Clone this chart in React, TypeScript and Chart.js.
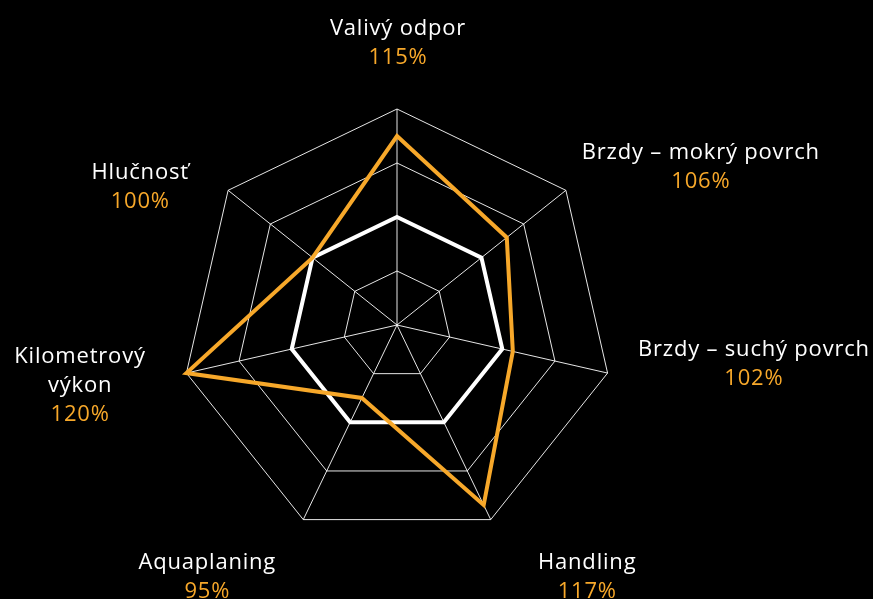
import React, { useEffect, useRef } from 'react';
import { Chart, registerables } from 'chart.js';

Chart.register(...registerables);

// ---- data ----
const categories: (string | string[])[] = [
  'Valivý odpor',
  'Brzdy – mokrý povrch',
  'Brzdy – suchý povrch',
  'Handling',
  'Aquaplaning',
  ['Kilometrový', 'výkon'],
  'Hlučnosť',
];
const tireValues = [115, 106, 102, 117, 95, 120, 100];
const referenceValues = [100, 100, 100, 100, 100, 100, 100];
const scaleMin = 80;
const scaleMax = 120;
const scaleStep = 10;

// ---- style / layout ----
const ORANGE = '#F7A82A';
const WHITE = '#FFFFFF';
const GRID = 'rgba(255,255,255,0.9)';
const FONT = '22px "Open Sans", "Noto Sans", sans-serif';
const LETTER_SPACING = '0.8px';
const LINE_H = 29;
const LABEL_GAP = 28;
// small per-label layout nudges [dx, dy] of the label blocks
const LABEL_NUDGE: [number, number][] = [
  [1, -10],
  [20, 12],
  [6, -22],
  [63, 6],
  [-54, 6],
  [-15, -4],
  [-28, 32],
];

const labelPlugin = {
  id: 'axisLabels',
  afterDraw(chart: any) {
    const scale = chart.scales.r;
    const ctx = chart.ctx as CanvasRenderingContext2D;
    ctx.save();
    ctx.font = FONT;
    try {
      (ctx as any).letterSpacing = LETTER_SPACING;
    } catch (e) {}
    ctx.textAlign = 'center';
    ctx.textBaseline = 'alphabetic';
    categories.forEach((cat, i) => {
      const names = Array.isArray(cat) ? cat : [cat];
      const lines = [...names, `${tireValues[i]}%`];
      const angle = scale.getIndexAngle(i) - Math.PI / 2;
      const cos = Math.cos(angle);
      const sin = Math.sin(angle);
      const p = scale.getPointPosition(i, scale.drawingArea + LABEL_GAP);
      const w = Math.max(...lines.map((l) => ctx.measureText(l).width));
      const h = lines.length * LINE_H;
      const [nx, ny] = LABEL_NUDGE[i];
      const cx = p.x + (cos * w) / 2 + nx;
      const cy = p.y + (sin * h) / 2 + ny;
      lines.forEach((l, j) => {
        ctx.fillStyle = j === lines.length - 1 ? ORANGE : WHITE;
        ctx.fillText(l, cx, cy - ((lines.length - 1) * LINE_H) / 2 + j * LINE_H + 7);
      });
    });
    ctx.restore();
  },
};

export default function App() {
  const ref = useRef<HTMLCanvasElement | null>(null);

  useEffect(() => {
    if (!ref.current) return;
    const chart = new Chart(ref.current, {
      type: 'radar',
      data: {
        labels: categories as any,
        datasets: [
          {
            data: tireValues,
            borderColor: ORANGE,
            borderWidth: 4,
            backgroundColor: 'transparent',
            fill: false,
            pointRadius: 0,
            pointHoverRadius: 0,
            borderJoinStyle: 'miter',
          },
          {
            data: referenceValues,
            borderColor: WHITE,
            borderWidth: 4,
            backgroundColor: 'transparent',
            fill: false,
            pointRadius: 0,
            pointHoverRadius: 0,
            borderJoinStyle: 'miter',
          },
        ],
      },
      options: {
        responsive: false,
        animation: false,
        layout: { padding: { left: 147, right: 226, top: 109, bottom: 58 } },
        plugins: { legend: { display: false }, tooltip: { enabled: false } },
        scales: {
          r: {
            min: scaleMin,
            max: scaleMax,
            ticks: { display: false, stepSize: scaleStep },
            grid: { color: GRID, lineWidth: 1 },
            angleLines: { color: GRID, lineWidth: 1 },
            pointLabels: { display: false },
          },
        },
      },
      plugins: [labelPlugin],
    });
    let alive = true;
    const fonts: any = (document as any).fonts;
    if (fonts && fonts.load) {
      fonts.load(FONT).then(() => {
        if (alive) chart.draw();
      });
    }
    return () => {
      alive = false;
      chart.destroy();
    };
  }, []);

  return (
    <div
      style={{
        position: 'fixed',
        left: 0,
        top: 0,
        width: 873,
        height: 599,
        background: '#000',
        overflow: 'hidden',
      }}
    >
      <canvas ref={ref} width={873} height={599} style={{ display: 'block' }} />
    </div>
  );
}
